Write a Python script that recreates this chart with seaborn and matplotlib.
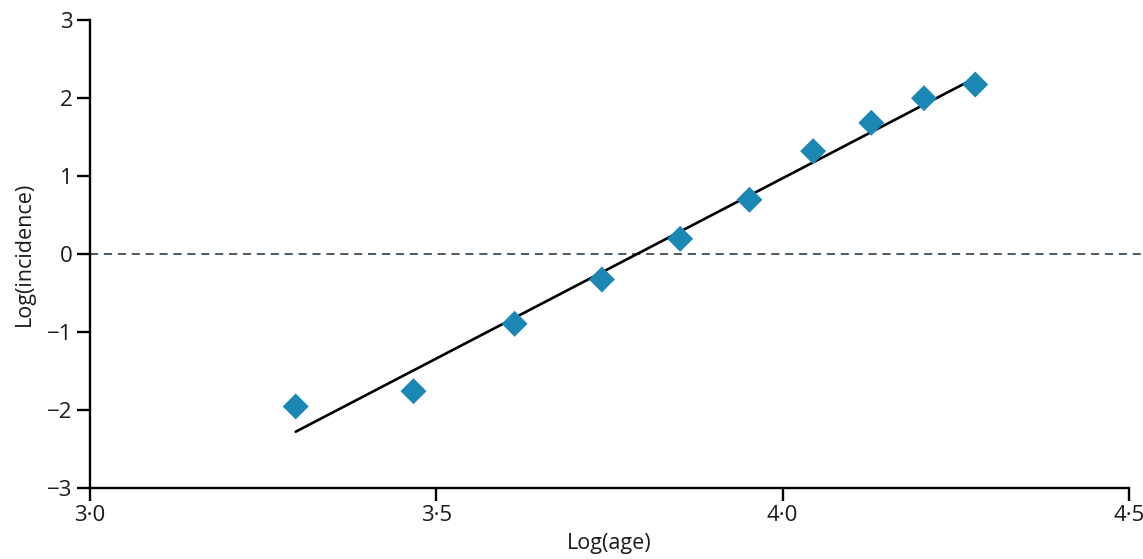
import numpy as np
import pandas as pd
import matplotlib
matplotlib.use("Agg")
import matplotlib.pyplot as plt
import seaborn as sns

# Log(age) and Log(incidence) pairs
log_age = [3.297, 3.467, 3.613, 3.739, 3.852, 3.952, 4.044, 4.128, 4.204, 4.278]
log_incidence = [-1.955, -1.759, -0.895, -0.327, 0.195, 0.695, 1.318, 1.682, 1.997, 2.173]

x_ticks = [3.0, 3.5, 4.0, 4.5]
x_tick_labels = ["3·0", "3·5", "4·0", "4·5"]
y_ticks = [-3, -2, -1, 0, 1, 2, 3]
y_tick_labels = ["−3", "−2", "−1", "0", "1", "2", "3"]

df = pd.DataFrame({"log_age": log_age, "log_incidence": log_incidence})

sns.set_style("ticks")
plt.rcParams["font.family"] = ["Open Sans", "DejaVu Sans"]

fig = plt.figure(figsize=(11.43, 5.59), dpi=100)
ax = fig.add_axes([90 / 1143, 1 - 488 / 559, (1129 - 90) / 1143, (488 - 20) / 559])

# reference line at zero, running slightly past the last tick
ax.axhline(0, xmin=0, xmax=1.013, color="#3b4d5a", lw=1.3,
           dashes=(4.5, 3.2), clip_on=False, zorder=1)

# least-squares fit line over the data range
sns.regplot(data=df, x="log_age", y="log_incidence", scatter=False, ci=None,
            truncate=True, color="black", line_kws={"lw": 1.9, "zorder": 2}, ax=ax)

sns.scatterplot(data=df, x="log_age", y="log_incidence", marker="D", s=175,
                color="#1a87b4", edgecolor="none", zorder=3, ax=ax)

ax.set_xlim(3.0, 4.5)
ax.set_ylim(-3, 3)
ax.set_xticks(x_ticks)
ax.set_xticklabels(x_tick_labels)
ax.set_yticks(y_ticks)
ax.set_yticklabels(y_tick_labels)

sns.despine(ax=ax)
for side in ("left", "bottom"):
    ax.spines[side].set_linewidth(1.7)
    ax.spines[side].set_color("black")
ax.tick_params(axis="both", length=9.5, width=1.7, color="black",
               labelsize=16, labelcolor="#1a1a1a", pad=3)

ax.set_xlabel("Log(age)", fontsize=15.5, color="#1a1a1a", labelpad=5)
ax.set_ylabel("Log(incidence)", fontsize=15.5, color="#1a1a1a", labelpad=9)

fig.savefig("out.png", dpi=100)
